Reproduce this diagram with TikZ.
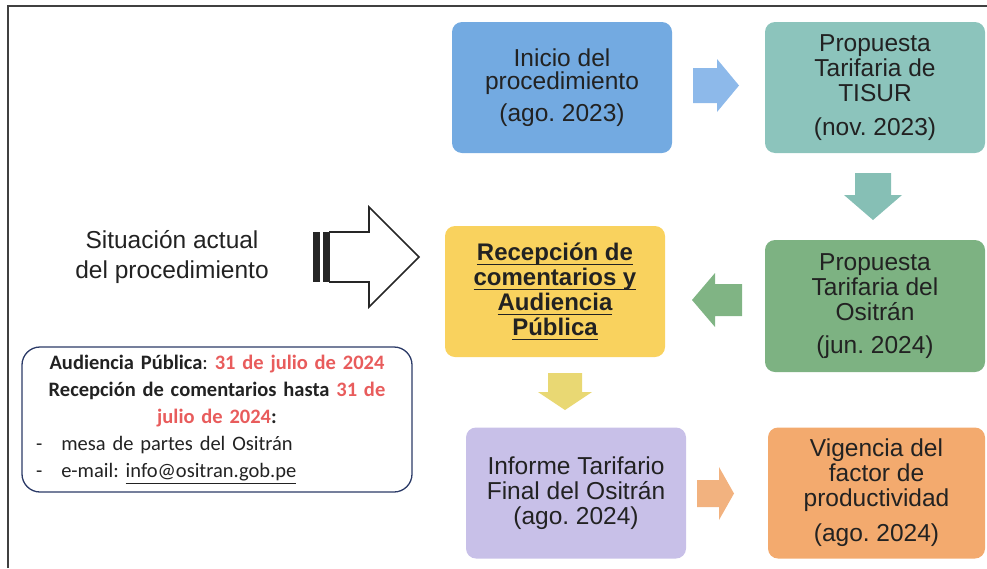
\documentclass[tikz,border=0pt]{standalone}
\usepackage{fontspec}
\setmainfont{Liberation Sans}
\newfontfamily\calib{Carlito}
\frenchspacing
\newsavebox\ulbox
\newcommand\ulx[1]{\sbox\ulbox{#1}\rlap{\rule[-4pt]{\wd\ulbox}{1.3pt}}\usebox\ulbox}
\definecolor{bBlue}{HTML}{73AAE1}
\definecolor{aBlue}{HTML}{8DB9EA}
\definecolor{bTeal}{HTML}{8CC4BC}
\definecolor{aTeal}{HTML}{86BFB5}
\definecolor{bYel}{HTML}{F9D25E}
\definecolor{aYel}{HTML}{E9D873}
\definecolor{bGreen}{HTML}{7DB282}
\definecolor{aGreen}{HTML}{80B484}
\definecolor{bLav}{HTML}{C8C0E8}
\definecolor{bOra}{HTML}{F3AA6E}
\definecolor{aOra}{HTML}{F2B27F}
\definecolor{txt}{HTML}{222222}
\definecolor{redtxt}{HTML}{E85C5C}
\definecolor{navy}{HTML}{2B3A67}
\begin{document}
\begin{tikzpicture}[x=1pt,y=-1pt,
  stepbox/.style={rounded corners=10pt, minimum width=220pt, minimum height=131pt,
    inner sep=0pt, align=center, text=txt, font=\fontsize{24.5}{25}\selectfont},
  arrowfill/.style={fill=#1, draw=none}]
\useasboundingbox (0,0) rectangle (987,568);
% frame
\draw[black!75, line width=1.2pt] (8,568) -- (8,6) -- (987,6);

% process boxes
\node[stepbox, fill=bBlue, font=\fontsize{24.5}{23}\selectfont] (b1) at (562,87.5)
  {Inicio del\\procedimiento\\[9pt](ago. 2023)};
\node[stepbox, fill=bTeal] (b2) at (875,87.5)
  {Propuesta\\Tarifaria de\\TISUR\\[9pt](nov. 2023)};
\node[stepbox, fill=bYel, font=\fontsize{24}{25}\selectfont\bfseries] (b3) at (555,291.5)
  {\ulx{Recepción de}\\\ulx{comentarios y}\\\ulx{Audiencia}\\\ulx{Pública}};
\node[stepbox, fill=bGreen, minimum height=132pt] (b4) at (875,306)
  {Propuesta\\Tarifaria del\\Ositrán\\[8pt](jun. 2024)};
\node[stepbox, fill=bLav] (b5) at (576,493)
  {Informe Tarifario\\Final del Ositrán\\(ago. 2024)};
\node[stepbox, fill=bOra, minimum width=217pt] (b6) at (876.5,493)
  {Vigencia del\\factor de\\productividad\\[10pt](ago. 2024)};

% block arrows between boxes
\fill[arrowfill=aBlue] (693,68) -- (717,68) -- (717,59) -- (739,85.5) -- (717,112) -- (717,103) -- (693,103) -- cycle;
\fill[arrowfill=aTeal] (855,173) -- (891,173) -- (891,195) -- (902,195) -- (873,220) -- (844,195) -- (855,195) -- cycle;
\fill[arrowfill=aGreen] (742,284) -- (715,284) -- (715,273) -- (692,300) -- (715,327) -- (715,316) -- (742,316) -- cycle;
\fill[arrowfill=aYel] (548,373) -- (582,373) -- (582,392) -- (592,392) -- (565,410) -- (538,392) -- (548,392) -- cycle;
\fill[arrowfill=aOra] (697,480) -- (719,480) -- (719,467) -- (734,493.5) -- (719,520) -- (719,507) -- (697,507) -- cycle;

% current situation label and outline arrow
\node[text=txt, align=center, font=\fontsize{24.5}{30}\selectfont] (sit) at (172,257)
  {Situación actual\\del procedimiento};
\fill[black!85] (313,232) rectangle (319.5,282);
\fill[black!85] (323,232) rectangle (329.5,282);
\draw[black!85, line width=1.6pt, line join=miter] (329,232) -- (369,232) -- (369,207) -- (419,257) -- (369,307) -- (369,282) -- (329,282);

% info box
\node[draw=navy, line width=1.3pt, rounded corners=18pt, minimum width=390pt, minimum height=145pt,
      inner sep=0pt, text width=372pt, align=center, text=txt,
      font=\calib\fontsize{20.5}{27}\selectfont] (info) at (217,419.5)
  {\textbf{Audiencia Pública}: \textbf{\color{redtxt}31 de julio de 2024}\\
   \textbf{Recepción de comentarios hasta \color{redtxt}31 de}\\
   \textbf{\color{redtxt}julio de 2024}\textbf{:}\\
   \makebox[\linewidth][l]{\hspace{5pt}-\hspace{19pt}mesa de partes del Ositrán}\\
   \makebox[\linewidth][l]{\hspace{5pt}-\hspace{19pt}e-mail: \underline{info@ositran.gob.pe}}};
\end{tikzpicture}
\end{document}
